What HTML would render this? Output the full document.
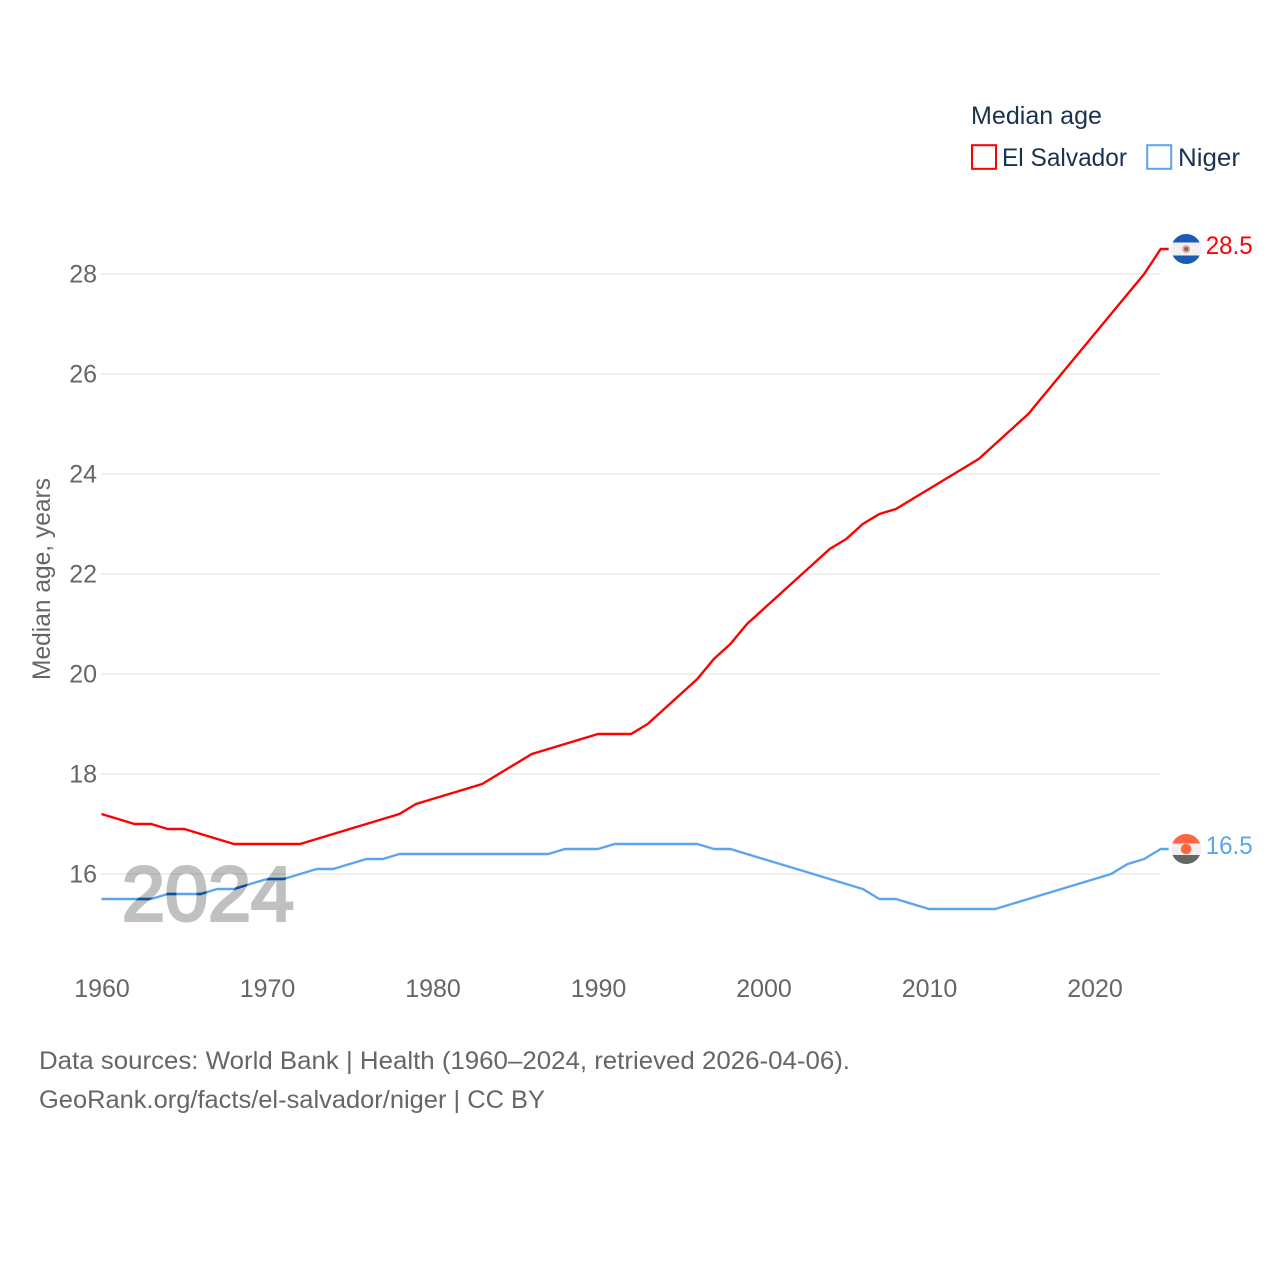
<!DOCTYPE html>
<html lang="en">
<head>
<meta charset="utf-8">
<title>Median age: El Salvador vs Niger</title>
<style>
html,body{margin:0;padding:0;background:#fff;}
svg{display:block;}
text{font-family:"Liberation Sans",sans-serif;}
.tick{font-size:25px;fill:#666;}
.legend{font-size:25px;fill:#1a3250;}
.foot{font-size:25px;fill:#666;}
</style>
</head>
<body>
<svg id="chart" xmlns="http://www.w3.org/2000/svg" width="1280" height="1280" viewBox="0 0 1280 1280">
  <defs>
    <mask id="year-mask" maskUnits="userSpaceOnUse" x="0" y="800" width="400" height="200">
      <text x="122" y="920.5" font-size="77" fill="#fff" stroke="#fff" stroke-width="3" textLength="172" lengthAdjust="spacingAndGlyphs">2024</text>
    </mask>
  </defs>
  <rect width="1280" height="1280" fill="#fff"/>
  <g id="grid"></g>
  <g id="yticks"></g>
  <g id="xticks"></g>
  <text class="tick" transform="translate(50,680) rotate(-90)" textLength="202" lengthAdjust="spacingAndGlyphs">Median age, years</text>

  <path id="line-sv" fill="none" stroke="#ff0000" stroke-width="2.4" stroke-linejoin="round"/>
  <path id="line-ne" fill="none" stroke="#5ba4f0" stroke-width="2.4" stroke-linejoin="round"/>
  <text x="122" y="920.5" font-size="77" fill="#bfc1c0" stroke="#bfc1c0" stroke-width="3" style="mix-blend-mode:multiply" textLength="172" lengthAdjust="spacingAndGlyphs">2024</text>
  <path id="line-ne-overlap" fill="none" stroke="#0c4f9e" stroke-width="2.4" stroke-linejoin="round" mask="url(#year-mask)"/>

  <g>
    <clipPath id="clip-sv"><circle id="flag-clip-sv" r="15"/></clipPath>
    <g clip-path="url(#clip-sv)">
      <rect id="flag-sv-bg" width="30" height="30" fill="#f0f0f0"/>
      <rect id="flag-sv-top" width="30" height="8.5" fill="#1a5bb5"/>
      <rect id="flag-sv-bottom" width="30" height="8.5" fill="#1a5bb5"/>
    </g>
    <circle id="flag-sv-emblem" r="4" fill="#f0a090"/>
    <circle id="flag-sv-dot" r="2" fill="#667"/>
  </g>
  <g>
    <clipPath id="clip-ne"><circle id="flag-clip-ne" r="15"/></clipPath>
    <g clip-path="url(#clip-ne)">
      <rect id="flag-ne-bg" width="30" height="30" fill="#f0f0f0"/>
      <rect id="flag-ne-top" width="30" height="9.5" fill="#ff6540"/>
      <rect id="flag-ne-bottom" width="30" height="9" fill="#666664"/>
    </g>
    <circle id="flag-ne-dot" r="5.3" fill="#ff6540"/>
  </g>
  <text id="value-sv" font-size="25" fill="#ff0000" textLength="47" lengthAdjust="spacingAndGlyphs"></text>
  <text id="value-ne" font-size="25" fill="#5ba4f0" textLength="47" lengthAdjust="spacingAndGlyphs"></text>

  <g>
    <text class="legend" x="971" y="124" textLength="131" lengthAdjust="spacingAndGlyphs">Median age</text>
    <rect x="972" y="145.2" width="24" height="23.6" fill="none" stroke="#ff0000" stroke-width="2"/>
    <text class="legend" x="1002" y="166" textLength="125" lengthAdjust="spacingAndGlyphs">El Salvador</text>
    <rect x="1147.2" y="145.2" width="24" height="23.6" fill="none" stroke="#5ba4f0" stroke-width="2"/>
    <text class="legend" x="1178" y="166" textLength="62" lengthAdjust="spacingAndGlyphs">Niger</text>
  </g>

  <text class="foot" x="39" y="1069" textLength="811" lengthAdjust="spacingAndGlyphs">Data sources: World Bank | Health (1960–2024, retrieved 2026-04-06).</text>
  <text class="foot" x="39" y="1108" textLength="506" lengthAdjust="spacingAndGlyphs">GeoRank.org/facts/el-salvador/niger | CC BY</text>
</svg>
<script>
const years = [1960,1961,1962,1963,1964,1965,1966,1967,1968,1969,1970,1971,1972,1973,1974,1975,1976,1977,1978,1979,1980,1981,1982,1983,1984,1985,1986,1987,1988,1989,1990,1991,1992,1993,1994,1995,1996,1997,1998,1999,2000,2001,2002,2003,2004,2005,2006,2007,2008,2009,2010,2011,2012,2013,2014,2015,2016,2017,2018,2019,2020,2021,2022,2023,2024];
const elSalvador = [17.2,17.1,17.0,17.0,16.9,16.9,16.8,16.7,16.6,16.6,16.6,16.6,16.6,16.7,16.8,16.9,17.0,17.1,17.2,17.4,17.5,17.6,17.7,17.8,18.0,18.2,18.4,18.5,18.6,18.7,18.8,18.8,18.8,19.0,19.3,19.6,19.9,20.3,20.6,21.0,21.3,21.6,21.9,22.2,22.5,22.7,23.0,23.2,23.3,23.5,23.7,23.9,24.1,24.3,24.6,24.9,25.2,25.6,26.0,26.4,26.8,27.2,27.6,28.0,28.5];
const niger = [15.5,15.5,15.5,15.5,15.6,15.6,15.6,15.7,15.7,15.8,15.9,15.9,16.0,16.1,16.1,16.2,16.3,16.3,16.4,16.4,16.4,16.4,16.4,16.4,16.4,16.4,16.4,16.4,16.5,16.5,16.5,16.6,16.6,16.6,16.6,16.6,16.6,16.5,16.5,16.4,16.3,16.2,16.1,16.0,15.9,15.8,15.7,15.5,15.5,15.4,15.3,15.3,15.3,15.3,15.3,15.4,15.5,15.6,15.7,15.8,15.9,16.0,16.2,16.3,16.5];
const yTickValues = [16,18,20,22,24,26,28];
const xTickValues = [1960,1970,1980,1990,2000,2010,2020];

const SVG_NS = 'http://www.w3.org/2000/svg';
function xScale(year){ return 101.5 + (year - 1960) * 16.55; }
function yScale(value){ return 874 - (value - 16) * 50; }
function make(tag, attrs, parent, txt){
  const el = document.createElementNS(SVG_NS, tag);
  for (const k in attrs) el.setAttribute(k, attrs[k]);
  if (txt !== undefined) el.textContent = txt;
  parent.appendChild(el);
  return el;
}
function linePath(values){
  let d = values.map((v, i) => (i ? 'L' : 'M') + xScale(years[i]).toFixed(2) + ' ' + yScale(v).toFixed(2)).join(' ');
  d += ' h8';
  return d;
}
const grid = document.getElementById('grid');
const yTicks = document.getElementById('yticks');
const xTicks = document.getElementById('xticks');
yTickValues.forEach(v => {
  const y = yScale(v);
  const gl = make('line', {x1: xScale(1960), x2: xScale(2024), y1: y, y2: y, stroke: '#ebebeb', 'stroke-width': 1.5}, grid);
  
  
  const t = make('text', {x: 97, y: y + 8.5, 'text-anchor': 'end', class: 'tick'}, yTicks, String(v));
  
  
});
xTickValues.forEach(v => {
  const t = make('text', {x: xScale(v) + 0.5, y: 997, 'text-anchor': 'middle', class: 'tick'}, xTicks, String(v));
  
  
});
document.getElementById('line-sv').setAttribute('d', linePath(elSalvador));
document.getElementById('line-ne').setAttribute('d', linePath(niger));
document.getElementById('line-ne-overlap').setAttribute('d', linePath(niger));

function placeFlag(prefix, values, parts){
  const cx = xScale(2024) + 25.5;
  const cy = yScale(values[values.length - 1]);
  const clip = document.getElementById('flag-clip-' + prefix);
  clip.setAttribute('cx', cx);
  clip.setAttribute('cy', cy);
  const bg = document.getElementById('flag-' + prefix + '-bg');
  const top = document.getElementById('flag-' + prefix + '-top');
  const bottom = document.getElementById('flag-' + prefix + '-bottom');
  bg.setAttribute('x', cx - 15);
  bg.setAttribute('y', cy - 15);
  top.setAttribute('x', cx - 15);
  top.setAttribute('y', cy - 15);
  bottom.setAttribute('x', cx - 15);
  bottom.setAttribute('y', cy + 15 - parseFloat(bottom.getAttribute('height')));
  parts.forEach(id => {
    const p = document.getElementById(id);
    p.setAttribute('cx', cx);
    p.setAttribute('cy', cy);
  });
  const label = document.getElementById('value-' + prefix);
  label.setAttribute('x', cx + 19.5);
  label.setAttribute('y', cy + 5);
  label.textContent = values[values.length - 1].toFixed(1);
}
placeFlag('sv', elSalvador, ['flag-sv-emblem', 'flag-sv-dot']);
placeFlag('ne', niger, ['flag-ne-dot']);
</script>
</body>
</html>
